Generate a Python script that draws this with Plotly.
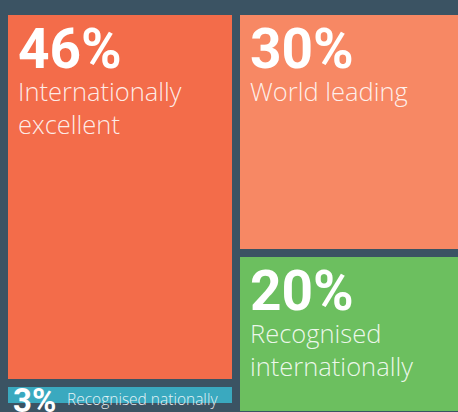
import plotly.graph_objects as go

# ---- data ----
labels = ["Internationally excellent", "Recognised nationally", "World leading", "Recognised internationally"]
values = [46, 3, 30, 20]
column = [0, 0, 1, 1]
colors = ["#f36c4a", "#3aa9bf", "#f78864", "#6cbf5f"]

BG = "#3b5363"
LABEL_COLOR = "rgba(255,255,255,0.88)"

# stacking bases per column
bases = []
running = {}
for c, v in zip(column, values):
    b = running.get(c, 0)
    bases.append(b)
    running[c] = b + v

fig = go.Figure()
fig.add_trace(go.Bar(
    x=column, y=values, base=bases, width=[1] * len(values),
    marker=dict(color=colors, line=dict(color=BG, width=8)),
    hoverinfo="skip", showlegend=False,
))

W, H = 458, 412
px_per_unit = 8.08
y0 = -11 / px_per_unit
y1 = y0 + H / px_per_unit
px_per_col = 232
x0 = -0.5 - 4 / px_per_col
x1 = x0 + W / px_per_col

NUM_STYLE = "font-family:Roboto;font-weight:bold;fill:#ffffff;fill-opacity:1;"

annotations = []
for lab, v, c, b in zip(labels, values, column, bases):
    if v >= 10:
        text_lab = lab.replace(" ", "<br>") if len(lab) > 14 else lab
        text = f"<span style='{NUM_STYLE}font-size:55px'>{v}%</span><br>{text_lab}"
        annotations.append(dict(
            x=c - 0.5, y=b, xref="x", yref="y", xanchor="left", yanchor="top",
            xshift=12, yshift=-4, showarrow=False, text=text, align="left",
            font=dict(family="Open Sans", size=25.5, color=LABEL_COLOR, weight=300),
        ))
    else:
        annotations.append(dict(
            x=c - 0.5, y=b, xref="x", yref="y", xanchor="left", yanchor="top",
            xshift=7, yshift=4, showarrow=False, text=f"<b>{v}%</b>",
            font=dict(family="Roboto", size=33, color="white"),
        ))
        annotations.append(dict(
            x=c - 0.5, y=b, xref="x", yref="y", xanchor="left", yanchor="top",
            xshift=61, yshift=-3, showarrow=False, text=lab,
            font=dict(family="Open Sans", size=15.5, color=LABEL_COLOR, weight=300),
        ))

fig.update_layout(
    width=W, height=H, margin=dict(l=0, r=0, t=0, b=0),
    paper_bgcolor=BG, plot_bgcolor=BG, barmode="overlay", bargap=0,
    xaxis=dict(range=[x0, x1], visible=False, fixedrange=True),
    yaxis=dict(range=[y1, y0], visible=False, fixedrange=True),
    annotations=annotations,
)

fig.write_html("out.html")
